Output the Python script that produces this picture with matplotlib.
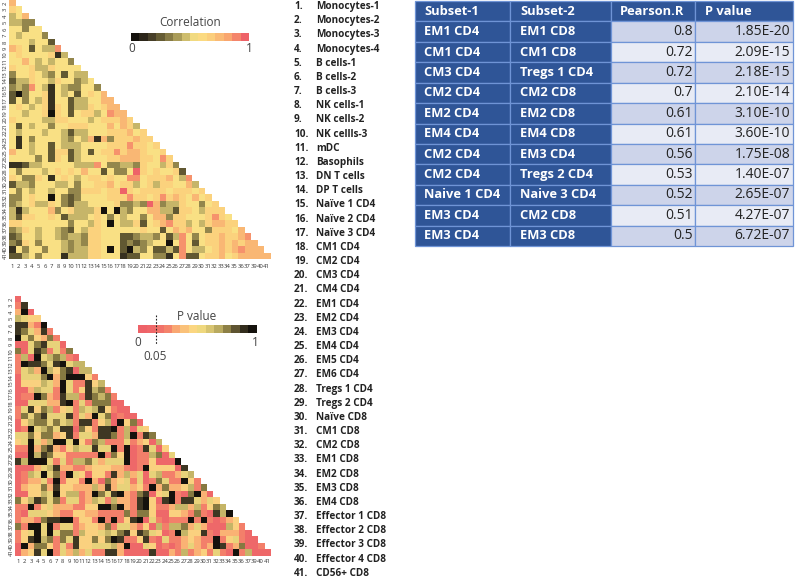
import matplotlib
matplotlib.use('Agg')
import matplotlib.pyplot as plt
import numpy as np
from matplotlib.colors import LinearSegmentedColormap, BoundaryNorm

W, H = 798, 578

# heatmap levels, 0-9 per cell, one string per row
corr_rows = [
    "7", "65", "457", "4433", "55355", "545553", "5554552", "76525 448",
    "56555 5614", "55754 54553", "65564 46555 5", "35565 43525 44",
    "24465 54655 345", "34385 41543 35 53", "20355 61545 25 657",
    "25354 61552 44 5577", "56545 61652 44 65677", "55455 60652 56 6458 77",
    "65555 44665 55 45666 76", "52545 53556 66 55575 764",
    "54555 45542 44 55566 67 56", "51535 55543 54 71736 66 766",
    "51545 52544 45 55566 68 66 56", "75545 52662 45 25668 67 76 556",
    "55553 52652 45 55566 77 76 6586", "11244 55555 44 48533 44 36 55463",
    "53555 45656 57 55253 35 96 56556 2", "65336 51565 45 66565 58 85 66675 48",
    "24435 55445 35 56675 66 45 64665 574", "53545 54553 36 66566 96 56 66656 66 56",
    "33565 50532 35 55566 68 66 56867 65 756", "34564 46532 44 55556 33 43 97344 65 5356",
    "41455 57356 44 46050 43 55 77442 66 54666", "42665 56524 44 56535 45 53 57736 65 55686 5",
    "66555 55553 55 46505 44 62 56786 64 54677 66", "34654 55432 54 66555 55 56 55257 67 55366 657",
    "23554 55434 43 66555 22 34 43524 85 35667 66 78", "32653 55543 43 66555 23 23 45505 85 25667 67 677",
    "15355 35543 44 66505 20 43 52242 85 44567 67 8777", "22453 55514 44 66555 12 25 53315 82 25667 56 77777",
]
pval_rows = [
    "1", "28", "391", "6544", "88329", "875382", "9574372", "11578551",
    "7158 72527", "2619 567621", "2988 7589566", "2563 96478166",
    "1555 793799942", "1444 6539522846", "1136 55295248672", "1229 732866287672",
    "1155 5338925277711", "2584 76245265684211", "2757 855582539571 211",
    "1467 7575628824619471", "1295 67588174 2889261 54",
    "5574 7734825538 87269 287", "4595 3699594276 22252 34 16",
    "2293 7832465585 59291 28 5 14", "1196 8744222229 27491 22 67 15",
    "8699 9525266753 55591 22 41 11 9", "1113 5683322344 43321 29 44 44 18",
    "1265 9572954144 28363 51 56 22 356", "1233 5292442931 73452 51 27 52 2 9 42",
    "1344 7384433363 83553 42 93 73 3 4 627", "1144 6594662397 58932 78 14 59 2 1 7 93 1",
    "7468 7572552365 26332 89 41 89 2 8 8 53 54", "2292 4533322449 97932 89 42 23 6 6 3 62 476",
    "2155 5432244332 22272 77 41 14 4 3 2 72 1869", "2332 7889924429 29248 91 52 12 2 2 9 29 21234",
    "7299 5925523443 72553 24 16 26 6 7 3 53 11164 2", "2459 5957726445 65784 87 54 12 9 6 4 48 21333 21",
    "2489 6727584474 79822 48 21 52 2 3 4 32 29245 211", "1937 7425284455 56391 15 41 21 2 3 5 32 39823 7112",
    "1348 5925363522 88311 11 81 13 2 6 2 34 25219 26111",
]

x_labels = [str(i) for i in range(1, 38)] + ['39', '40', '41']
y_labels = [str(i) for i in range(2, 42)]

subset_names = ['Monocytes-1', 'Monocytes-2', 'Monocytes-3', 'Monocytes-4', 'B cells-1', 'B cells-2', 'B cells-3',
                'NK cells-1', 'NK cells-2', 'NK cellls-3', 'mDC', 'Basophils', 'DN T cells', 'DP T cells',
                'Naïve 1 CD4', 'Naïve 2 CD4', 'Naïve 3 CD4', 'CM1 CD4', 'CM2 CD4', 'CM3 CD4', 'CM4 CD4', 'EM1 CD4',
                'EM2 CD4', 'EM3 CD4', 'EM4 CD4', 'EM5 CD4', 'EM6 CD4', 'Tregs 1 CD4', 'Tregs 2 CD4', 'Naïve CD8',
                'CM1 CD8', 'CM2 CD8', 'EM1 CD8', 'EM2 CD8', 'EM3 CD8', 'EM4 CD8', 'Effector 1 CD8', 'Effector 2 CD8',
                'Effector 3 CD8', 'Effector 4 CD8', 'CD56+ CD8']

table_head = ['Subset-1', 'Subset-2', 'Pearson.R', 'P value']
subset_1 = ['EM1 CD4', 'CM1 CD4', 'CM3 CD4', 'CM2 CD4', 'EM2 CD4', 'EM4 CD4', 'CM2 CD4', 'CM2 CD4', 'Naive 1 CD4',
            'EM3 CD4', 'EM3 CD4']
subset_2 = ['EM1 CD8', 'CM1 CD8', 'Tregs 1 CD4', 'CM2 CD8', 'EM2 CD8', 'EM4 CD8', 'EM3 CD4', 'Tregs 2 CD4',
            'Naive 3 CD4', 'CM2 CD8', 'EM3 CD8']
pearson_r = ['0.8', '0.72', '0.72', '0.7', '0.61', '0.61', '0.56', '0.53', '0.52', '0.51', '0.5']
p_values = ['1.85E-20', '2.09E-15', '2.18E-15', '2.10E-14', '3.10E-10', '3.60E-10', '1.75E-08', '1.40E-07',
            '2.65E-07', '4.27E-07', '6.72E-07']

corr_cmap = LinearSegmentedColormap.from_list('corr', [
    (0.0, '#15120d'), (0.12, '#3a3322'), (0.25, '#6e6438'), (0.38, '#a89a58'), (0.48, '#d8c673'),
    (0.56, '#fbe285'), (0.70, '#fbcd7b'), (0.85, '#f9a46e'), (1.0, '#ee6268')])
pval_cmap = LinearSegmentedColormap.from_list('pval', [
    (0.0, '#ee6268'), (0.11, '#ef696a'), (0.22, '#f4806a'), (0.33, '#fab274'), (0.5, '#fbe285'),
    (0.67, '#c4b567'), (0.78, '#877a42'), (0.89, '#3f3824'), (1.0, '#15120d')])


def to_matrix(rows):
    mat = np.full((40, 40), np.nan)
    for i, row in enumerate(rows):
        row = ''.join(row.split())
        if len(row) != i + 1:
            raise ValueError(f'row {i} has {len(row)} cells')
        mat[i, :i + 1] = [int(c) / 9 for c in row]
    return mat


def px_axes(fig, x0, y0, x1, y1):
    return fig.add_axes([x0 / W, 1 - y1 / H, (x1 - x0) / W, (y1 - y0) / H])


def draw_heat(fig, box, rows, cmap, lab_x, lab_y):
    ax = px_axes(fig, *box)
    ax.imshow(to_matrix(rows), cmap=cmap, vmin=0, vmax=1, aspect='auto', interpolation='nearest')
    for s in ax.spines.values():
        s.set_visible(False)
    ax.set_xticks(range(40))
    ax.set_xticklabels(x_labels, fontsize=4.2, color='#333333')
    ax.set_yticks(range(40))
    ax.set_yticklabels(y_labels, fontsize=4.2, rotation=90, va='center', color='#333333')
    ax.tick_params(length=0, pad=lab_x, axis='x')
    ax.tick_params(length=0, pad=lab_y, axis='y')
    return ax


def draw_bar(fig, box, cmap):
    cax = px_axes(fig, *box)
    norm = BoundaryNorm(np.linspace(0, 1, 15), 256)
    cb = fig.colorbar(plt.cm.ScalarMappable(norm=norm, cmap=cmap), cax=cax, orientation='horizontal',
                      ticks=[], drawedges=False, spacing='proportional')
    cb.outline.set_visible(False)
    cax.tick_params(length=0, which='both')
    return cax


plt.rcParams['font.family'] = ['Open Sans', 'DejaVu Sans']
fig = plt.figure(figsize=(W / 100, H / 100), dpi=100)

draw_heat(fig, (9, 0, 270, 259), corr_rows, corr_cmap, 3.5, 1)
draw_heat(fig, (15, 296, 270, 556), pval_rows, pval_cmap, 2.5, 1)

draw_bar(fig, (131, 33, 249, 41), corr_cmap)
draw_bar(fig, (138, 325, 257, 333), pval_cmap)

# overlay in pixel coordinates for the bar captions, list and table
ov = fig.add_axes([0, 0, 1, 1], facecolor='none')
ov.set_xlim(0, W)
ov.set_ylim(H, 0)
ov.axis('off')

txt = dict(ha='center', va='center', color='#444444', fontsize=8.5)
ov.text(190, 23, 'Correlation', **txt)
ov.text(132, 49, '0', **txt)
ov.text(249, 49, '1', **txt)
ov.text(197, 316, 'P value', **txt)
ov.text(138, 342, '0', **txt)
ov.text(255, 342, '1', **txt)
ov.text(155, 356, '0.05', **txt)
ov.plot([156, 156], [315, 345], color='#222222', lw=0.8, ls=(0, (1.5, 1.5)))

for i, name in enumerate(subset_names):
    y = 6.5 + i * 14.17
    ov.text(294, y, f'{i + 1}.', fontsize=7.2, fontweight='bold', va='center', color='#222222')
    ov.text(316, y, name, fontsize=7.2, fontweight='bold', va='center', color='#222222')

# results table
cells = [list(r) for r in zip(subset_1, subset_2, pearson_r, p_values)]
tab = ov.table(cellText=cells, colLabels=table_head, bbox=[415 / W, 1 - 246 / H, (793 - 415) / W, 245 / H],
               colWidths=[95, 101, 84, 98], cellLoc='left')
tab.auto_set_font_size(False)
for (r, c), cell in tab.get_celld().items():
    cell.set_edgecolor('#6f94d6')
    cell.set_linewidth(0.9)
    t = cell.get_text()
    if r == 0 or c < 2:
        cell.set_facecolor('#2f5597')
        t.set_color('white')
        t.set_fontweight('bold')
        t.set_fontsize(9.3)
        t.set_ha('left')
    else:
        cell.set_facecolor('#cdd4ea' if r % 2 == 1 else '#e8ebf5')
        t.set_color('#222222')
        t.set_fontsize(10)
        t.set_ha('right')
        cell.PAD = 0.03

fig.savefig('out.png', dpi=100)
